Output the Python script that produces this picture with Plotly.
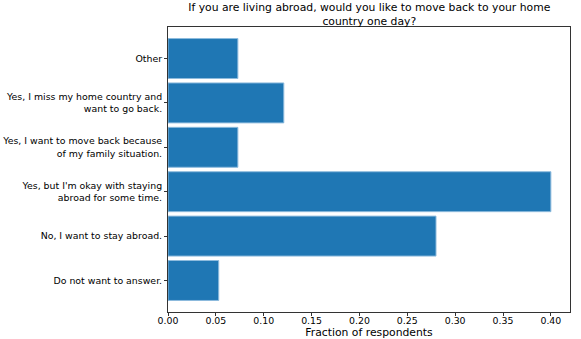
import plotly.graph_objects as go

# answers listed bottom-to-top, as drawn
answers = [
    "Do not want to answer.",
    "No, I want to stay abroad.",
    "Yes, but I'm okay with staying<br>abroad for some time.",
    "Yes, I want to move back because<br>of my family situation.",
    "Yes, I miss my home country and<br>want to go back.",
    "Other",
]
fractions = [0.053, 0.280, 0.400, 0.073, 0.121, 0.073]
x_ticks = [0.00, 0.05, 0.10, 0.15, 0.20, 0.25, 0.30, 0.35, 0.40]

FONT = "DejaVu Sans"
AXIS = "#333333"

fig = go.Figure()
fig.add_bar(x=fractions, y=answers, orientation="h",
            marker=dict(color="#1f77b4", line=dict(color="#8dbbdd", width=1)))

fig.update_layout(
    width=581, height=339,
    margin=dict(l=168, r=11, t=27, b=27, autoexpand=False),
    paper_bgcolor="white", plot_bgcolor="white",
    font=dict(family=FONT, size=9.4, color="black"),
    bargap=0.1,
    showlegend=False,
    title=dict(text="If you are living abroad, would you like to move back to your home<br>country one day?",
               font=dict(size=10.8, family=FONT, color="black"),
               x=369.3 / 581, xref="container", xanchor="center",
               y=1 - 11 / 339, yref="container", yanchor="middle"),
)
fig.update_xaxes(range=[0, 0.42], tickvals=x_ticks, tickformat=".2f",
                 ticks="outside", ticklen=3, tickcolor=AXIS,
                 ticklabelstandoff=-3, automargin=True,
                 showline=True, linecolor=AXIS, linewidth=1, mirror=True,
                 showgrid=False, zeroline=False,
                 title=dict(text="Fraction of respondents", font=dict(size=10.8), standoff=1))
fig.update_yaxes(range=[-0.71, 5.71], ticks="outside", ticklen=3, tickcolor=AXIS,
                 automargin=False,
                 showline=True, linecolor=AXIS, linewidth=1, mirror=True,
                 showgrid=False, zeroline=False)

# the page's default body margin would push the figure 8px down and right
fig.write_html("out.html", config={"displayModeBar": False},
               post_script="document.body.style.margin = '0';")
